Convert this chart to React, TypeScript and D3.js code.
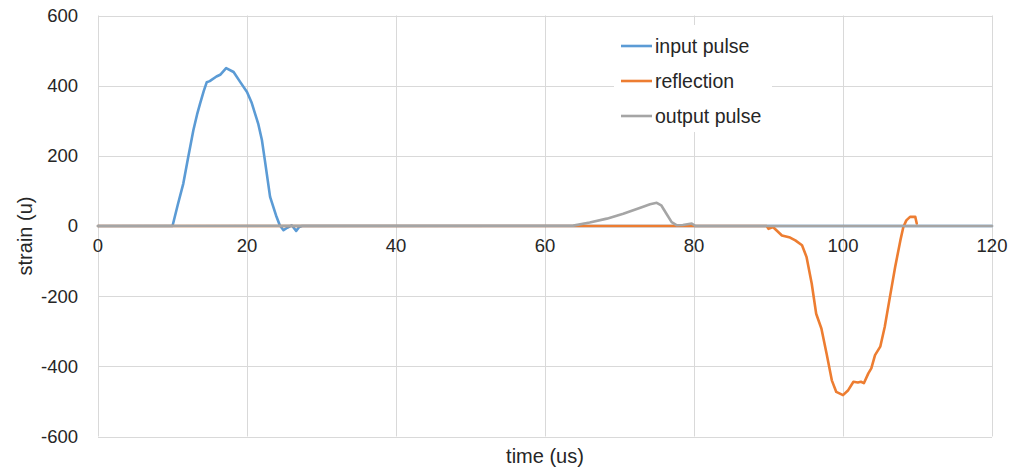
import React, { useRef, useEffect } from 'react';
import * as d3 from 'd3';

// series: time (us) and strain (u)
const inputTime = [0, 10.0, 10.7, 11.45, 12.1, 12.8, 13.3, 13.7, 14.2, 14.6, 15.0, 15.9, 16.4, 17.2, 18.2, 19.1, 20.0, 20.6, 21.5, 22.0, 22.4, 23.1, 23.9, 24.4, 24.9, 25.4, 26.0, 26.6, 27.0, 27.4, 120];
const inputStrain = [0, 0, 60, 121, 195, 273, 318, 349, 385, 410, 413, 426, 431, 450, 439, 410, 382, 353, 292, 245, 187, 83, 30, 2, -12, -5, 2, -14, -3, 0, 0];

const reflTime = [0, 89.75, 90.0, 90.6, 91.8, 92.9, 93.6, 94.5, 95.1, 95.8, 96.4, 97.1, 97.8, 98.5, 99.1, 100.0, 100.7, 101.4, 102.0, 102.4, 102.8, 103.4, 103.8, 104.3, 105.0, 105.6, 106.3, 107.0, 107.7, 108.1, 108.5, 109.0, 109.7, 109.9];
const reflStrain = [0, 0, -8, -3, -27, -33, -41, -55, -88, -164, -250, -292, -364, -440, -473, -482, -468, -444, -446, -444, -448, -420, -406, -368, -344, -288, -202, -117, -41, -3, 16, 26, 26, 7];

const outTime = [0, 63.8, 66.0, 68.3, 70.5, 72.8, 74.1, 75.0, 75.6, 76.3, 77.0, 77.7, 78.5, 79.7, 80.2, 120];
const outStrain = [0, 1, 10, 21, 35, 52, 62, 66, 59, 35, 11, 2, 3, 7, 0, 0];

const xTicks = [0, 20, 40, 60, 80, 100, 120];
const yTicks = [600, 400, 200, 0, -200, -400, -600];

const seriesNames = ['input pulse', 'reflection', 'output pulse'];
const seriesColors = ['#5b9bd5', '#ed7d31', '#a5a5a5'];

const App = () => {
  const svgRef = useRef<SVGSVGElement>(null);

  useEffect(() => {
    const svg = d3.select(svgRef.current);
    svg.selectAll('*').remove();

    const font = '"Liberation Sans", Arial, sans-serif';
    const left = 98, right = 992, top = 15.5, bottom = 436.5;

    const x = d3.scaleLinear().domain([0, 120]).range([left, right]);
    const y = d3.scaleLinear().domain([-600, 600]).range([bottom, top]);

    svg.append('rect').attr('width', 1010).attr('height', 469).attr('fill', '#fff');

    // gridlines
    svg.append('g').selectAll('line').data(yTicks).enter().append('line')
      .attr('x1', left).attr('x2', right)
      .attr('y1', d => Math.round(y(d)) + 0.5).attr('y2', d => Math.round(y(d)) + 0.5)
      .attr('stroke', '#d9d9d9').attr('stroke-width', 1);
    svg.append('g').selectAll('line').data(xTicks).enter().append('line')
      .attr('x1', d => Math.round(x(d)) + 0.5).attr('x2', d => Math.round(x(d)) + 0.5)
      .attr('y1', top).attr('y2', bottom)
      .attr('stroke', '#d9d9d9').attr('stroke-width', 1);

    // zero axis line
    svg.append('line')
      .attr('x1', left).attr('x2', right).attr('y1', y(0)).attr('y2', y(0))
      .attr('stroke', '#bfbfbf').attr('stroke-width', 1);

    // y tick labels
    svg.append('g').selectAll('text').data(yTicks).enter().append('text')
      .attr('x', 78).attr('y', d => y(d)).attr('dy', '0.35em')
      .attr('text-anchor', 'end').attr('font-family', font).attr('font-size', 18.5)
      .attr('fill', '#262626').text(d => d);

    // x tick labels (under the zero line)
    svg.append('g').selectAll('text').data(xTicks).enter().append('text')
      .attr('x', d => x(d)).attr('y', y(0) + 26)
      .attr('text-anchor', 'middle').attr('font-family', font).attr('font-size', 18.5)
      .attr('fill', '#262626').text(d => d);

    // axis titles
    svg.append('text')
      .attr('transform', `translate(32, ${(top + bottom) / 2 + 10}) rotate(-90)`)
      .attr('text-anchor', 'middle').attr('font-family', font).attr('font-size', 20)
      .attr('fill', '#262626').text('strain (u)');
    svg.append('text')
      .attr('x', (left + right) / 2).attr('y', 463)
      .attr('text-anchor', 'middle').attr('font-family', font).attr('font-size', 20)
      .attr('fill', '#262626').text('time (us)');

    // series lines
    const line = d3.line<[number, number]>().x(d => x(d[0])).y(d => y(d[1]));
    const series: [number, number][][] = [
      inputTime.map((t, i) => [t, inputStrain[i]]),
      reflTime.map((t, i) => [t, reflStrain[i]]),
      outTime.map((t, i) => [t, outStrain[i]]),
    ];
    series.forEach((pts, i) => {
      svg.append('path')
        .attr('d', line(pts))
        .attr('fill', 'none')
        .attr('stroke', seriesColors[i])
        .attr('stroke-width', 2.6)
        .attr('stroke-linejoin', 'round')
        .attr('stroke-linecap', 'round');
    });

    // legend
    const lg = svg.append('g');
    lg.append('rect').attr('x', 614).attr('y', 25).attr('width', 158).attr('height', 107).attr('fill', '#fff');
    seriesNames.forEach((name, i) => {
      const ly = 46 + i * 35;
      lg.append('line')
        .attr('x1', 621).attr('x2', 652).attr('y1', ly).attr('y2', ly)
        .attr('stroke', seriesColors[i]).attr('stroke-width', 2.6);
      lg.append('text')
        .attr('x', 655).attr('y', ly).attr('dy', '0.35em')
        .attr('font-family', font).attr('font-size', 19.5)
        .attr('fill', '#262626').text(name);
    });
  }, []);

  return (
    <svg ref={svgRef} width={1010} height={469}
      style={{ position: 'absolute', left: 0, top: 0, display: 'block' }} />
  );
};

export default App;
